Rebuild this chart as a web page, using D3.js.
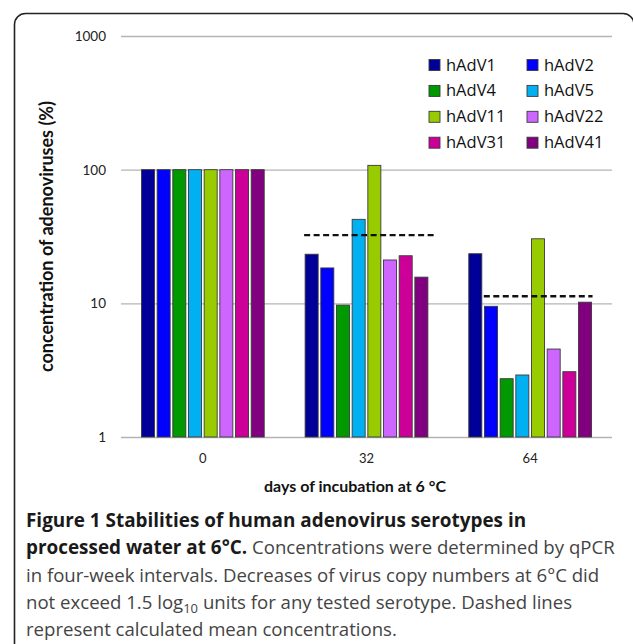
<!DOCTYPE html>
<html>
<head>
<meta charset="utf-8">
<script src="https://cdn.jsdelivr.net/npm/d3@7"></script>
<style>
  body { margin: 0; background: #fff; }
  svg { display: block; }
</style>
</head>
<body>
<script>
var w = 633;
var h = 644;

// data
var days = ["0", "32", "64"];
var serotypes = ["hAdV1", "hAdV2", "hAdV4", "hAdV5", "hAdV11", "hAdV22", "hAdV31", "hAdV41"];
var day0 = [100, 100, 100, 100, 100, 100, 100, 100];
var day32 = [23.3, 18.4, 9.7, 42.5, 107.7, 21.1, 22.7, 15.7];
var day64 = [23.5, 9.5, 2.73, 2.91, 30.4, 4.55, 3.08, 10.2];
var meanDays = ["32", "64"];
var meanValues = [32.4, 11.3];
var yTicks = [1, 10, 100, 1000];
var colors = ["#000099", "#0000ff", "#009900", "#00b0f0", "#99cc00", "#cc66ff", "#cc0099", "#800080"];

var values = [day0, day32, day64];

var svg = d3.select("body").append("svg").attr("width", w).attr("height", h);

// frame round the figure (runs off the right and bottom edge)
svg.append("rect")
    .attr("x", 14.5).attr("y", 13.5)
    .attr("width", 619.5).attr("height", 700)
    .attr("rx", 11)
    .attr("fill", "none")
    .attr("stroke", "#222")
    .attr("stroke-width", 1.6);

var xScale = d3.scaleBand()
    .domain(days)
    .range([121, 612])
    .paddingInner(0.25)
    .paddingOuter(0.125);

var xInner = d3.scaleBand()
    .domain(serotypes)
    .range([0, xScale.bandwidth()])
    .paddingInner(0.17);

var yScale = d3.scaleLog()
    .domain([1, 1000])
    .range([437, 36]);

// grid lines
svg.append("g").selectAll("line").data(yTicks).enter().append("line")
    .attr("x1", 121).attr("x2", 612)
    .attr("y1", function (d) { return yScale(d) + 0.5; })
    .attr("y2", function (d) { return yScale(d) + 0.5; })
    .attr("stroke", "#b4b4b4")
    .attr("stroke-width", 1.3);

// y tick labels
svg.append("g").selectAll("text").data(yTicks).enter().append("text")
    .attr("x", 106)
    .attr("y", function (d) { return yScale(d) + 5; })
    .attr("text-anchor", "end")
    .style("font-family", "Lato, sans-serif")
    .style("font-size", "13.5px")
    .attr("fill", "#222")
    .text(function (d) { return d; });

// bars
var groups = svg.append("g").selectAll("g").data(days).enter().append("g")
    .attr("transform", function (d) { return "translate(" + xScale(d) + ",0)"; });

groups.selectAll("rect")
    .data(function (d, i) { return values[i].map(function (v, j) { return { s: serotypes[j], v: v, c: colors[j] }; }); })
    .enter().append("rect")
    .attr("x", function (d) { return xInner(d.s); })
    .attr("y", function (d) { return yScale(d.v); })
    .attr("width", xInner.bandwidth())
    .attr("height", function (d) { return yScale(1) - yScale(d.v); })
    .attr("fill", function (d) { return d.c; })
    .attr("stroke", "#3a3a3a")
    .attr("stroke-width", 0.9);

// dashed mean lines (start/end offsets taken from the figure)
var meanSpan = { "32": [-1, 8], "64": [15, 1] };
svg.append("g").selectAll("line").data(meanDays).enter().append("line")
    .attr("x1", function (d) { return xScale(d) + meanSpan[d][0]; })
    .attr("x2", function (d) { return xScale(d) + xScale.bandwidth() + meanSpan[d][1]; })
    .attr("y1", function (d, i) { return yScale(meanValues[i]); })
    .attr("y2", function (d, i) { return yScale(meanValues[i]); })
    .attr("stroke", "#111")
    .attr("stroke-width", 2.4)
    .attr("stroke-dasharray", "6,3.5");

// x tick labels
svg.append("g").selectAll("text").data(days).enter().append("text")
    .attr("x", function (d) { return xScale(d) + xScale.bandwidth() / 2; })
    .attr("y", 463)
    .attr("text-anchor", "middle")
    .style("font-family", "Lato, sans-serif")
    .style("font-size", "13px")
    .attr("fill", "#222")
    .text(function (d) { return d; });

// axis titles
svg.append("text")
    .attr("x", 355).attr("y", 492)
    .attr("text-anchor", "middle")
    .style("font-family", "Lato, sans-serif")
    .style("font-size", "16px")
    .style("font-weight", "bold")
    .attr("fill", "#111")
    .text("days of incubation at 6 °C");

svg.append("text")
    .attr("transform", "translate(53,236.5) rotate(-90)")
    .attr("text-anchor", "middle")
    .style("font-family", "Lato, sans-serif")
    .style("font-size", "18px")
    .style("font-weight", "bold")
    .attr("fill", "#111")
    .text("concentration of adenoviruses (%)");

// legend, two columns
var legend = svg.append("g").selectAll("g").data(serotypes).enter().append("g")
    .attr("transform", function (d, i) {
        return "translate(" + (429 + (i % 2) * 98) + "," + (59.5 + Math.floor(i / 2) * 25.9) + ")";
    });
legend.append("rect")
    .attr("width", 11).attr("height", 11)
    .attr("fill", function (d, i) { return colors[i]; })
    .attr("stroke", "#3a3a3a")
    .attr("stroke-width", 0.9);
legend.append("text")
    .attr("x", 17).attr("y", 11)
    .style("font-family", "'Open Sans', sans-serif")
    .style("font-size", "16.5px")
    .attr("fill", "#111")
    .text(function (d) { return d; });

// caption
var caption = svg.append("text")
    .style("font-family", "'Open Sans', sans-serif")
    .style("font-size", "18.6px")
    .attr("fill", "#444");

var lines = [
    [["Figure 1 Stabilities of human adenovirus serotypes in", true]],
    [["processed water at 6°C.", true], [" Concentrations were determined by qPCR", false]],
    [["in four-week intervals. Decreases of virus copy numbers at 6°C did", false]],
    [["not exceed 1.5 log", false], ["10", "sub"], [" units for any tested serotype. Dashed lines", false]],
    [["represent calculated mean concentrations.", false]]
];

lines.forEach(function (parts, i) {
    parts.forEach(function (p, j) {
        var t = caption.append("tspan").text(p[0]);
        if (j === 0) t.attr("x", 26).attr("y", 527 + i * 27.3);
        if (p[1] === true) t.style("font-weight", "bold").style("font-size", "18.9px").attr("fill", "#1a1a1a");
        if (p[1] === "sub") {
            t.style("font-size", "13px").attr("dy", 4);
        } else if (j > 0 && parts[j - 1][1] === "sub") {
            t.attr("dy", -4);
        }
    });
});
</script>
</body>
</html>
